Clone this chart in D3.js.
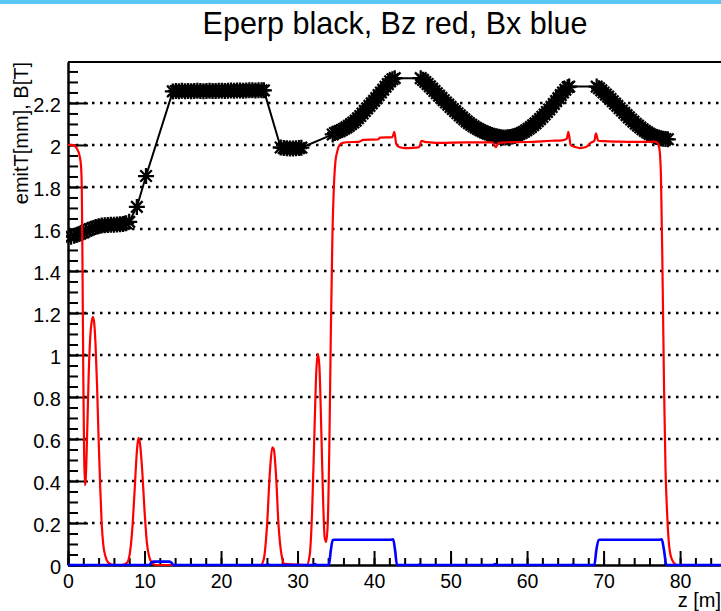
<!DOCTYPE html>
<html>
<head>
<meta charset="utf-8">
<script src="https://cdn.jsdelivr.net/npm/d3@7"></script>
<style>
  body { margin: 0; background: #fff; }
  text { font-family: "Liberation Sans", Arial, Helvetica, sans-serif; }
</style>
</head>
<body>
<div id="chart"></div>
<script>
// Eperp (black, with star markers)
const zE = [0.4, 0.8, 1.2, 1.6, 2.0, 2.4, 2.8, 3.2, 3.6, 4.0, 4.4, 4.8, 5.2, 5.6, 6.0, 6.4, 6.8, 7.2, 7.6, 8.0,
  9.0, 10.2, 13.7,
  14.1, 14.5, 14.9, 15.3, 15.7, 16.1, 16.5, 16.9, 17.3, 17.7, 18.1, 18.5, 18.9, 19.3, 19.7, 20.1, 20.5, 20.9, 21.3, 21.7,
  22.1, 22.5, 22.9, 23.3, 23.7, 24.1, 24.5, 24.9, 25.3, 25.6,
  27.8, 28.2, 28.6, 29.0, 29.4, 29.8, 30.2, 30.5,
  34.6, 34.9, 35.2, 35.5, 35.8, 36.1, 36.4, 36.7, 37.0, 37.3, 37.6, 37.9, 38.2, 38.5, 38.8, 39.1, 39.4, 39.7, 40.0,
  40.3, 40.6, 40.9, 41.2, 41.5, 41.8, 42.1, 42.4, 42.7,
  46.1, 46.4, 46.7, 47.0, 47.3, 47.6, 47.9, 48.2, 48.5, 48.8, 49.1, 49.4, 49.7, 50.0, 50.3, 50.6, 50.9, 51.2, 51.5,
  51.8, 52.1, 52.4, 52.7, 53.0, 53.3, 53.6, 53.9, 54.2, 54.5, 54.8, 55.1, 55.4, 55.7, 56.0, 56.3, 56.6, 56.9, 57.2,
  57.5, 57.8, 58.1, 58.4, 58.7, 59.0, 59.3, 59.6, 59.9, 60.2, 60.5, 60.8, 61.1, 61.4, 61.7, 62.0, 62.3, 62.6, 62.9,
  63.2, 63.5, 63.8, 64.1, 64.4, 64.7, 65.0, 65.3, 65.5,
  69.1, 69.4, 69.7, 70.0, 70.3, 70.6, 70.9, 71.2, 71.5, 71.8, 72.1, 72.4, 72.7, 73.0, 73.3, 73.6, 73.9, 74.2, 74.5,
  74.8, 75.1, 75.4, 75.7, 76.0, 76.3, 76.6, 76.9, 77.2, 77.5, 77.8, 78.1, 78.4];
const eperp = [1.563, 1.568, 1.572, 1.578, 1.584, 1.592, 1.598, 1.604, 1.609, 1.613, 1.616, 1.618, 1.619, 1.620, 1.620, 1.621, 1.622, 1.624, 1.627, 1.634,
  1.705, 1.852, 2.255,
  2.257, 2.256, 2.258, 2.256, 2.257, 2.256, 2.257, 2.258, 2.257, 2.256, 2.257, 2.258, 2.257, 2.257, 2.258, 2.258, 2.257, 2.258, 2.259, 2.258,
  2.259, 2.259, 2.258, 2.259, 2.260, 2.260, 2.259, 2.260, 2.260, 2.260,
  1.988, 1.985, 1.984, 1.983, 1.983, 1.984, 1.985, 1.987,
  2.050, 2.057, 2.062, 2.066, 2.071, 2.077, 2.084, 2.091, 2.099, 2.107, 2.116, 2.127, 2.138, 2.150, 2.162, 2.174, 2.186, 2.198, 2.210,
  2.223, 2.237, 2.250, 2.263, 2.277, 2.290, 2.303, 2.313, 2.318,
  2.318, 2.310, 2.300, 2.290, 2.279, 2.268, 2.257, 2.246, 2.235, 2.224, 2.213, 2.202, 2.192, 2.181, 2.171, 2.161, 2.151, 2.141, 2.131,
  2.122, 2.112, 2.104, 2.096, 2.089, 2.082, 2.076, 2.070, 2.065, 2.060, 2.055, 2.051, 2.047, 2.044, 2.041, 2.039, 2.037, 2.036, 2.036,
  2.037, 2.038, 2.040, 2.043, 2.047, 2.052, 2.057, 2.063, 2.070, 2.077, 2.085, 2.094, 2.103, 2.113, 2.123, 2.134, 2.145, 2.157, 2.169,
  2.181, 2.195, 2.209, 2.223, 2.237, 2.250, 2.263, 2.275, 2.278,
  2.278, 2.270, 2.260, 2.250, 2.240, 2.230, 2.219, 2.208, 2.197, 2.186, 2.175, 2.164, 2.153, 2.142, 2.131, 2.121, 2.111, 2.101, 2.092,
  2.083, 2.075, 2.067, 2.060, 2.053, 2.047, 2.042, 2.038, 2.035, 2.032, 2.030, 2.028, 2.027];

// Bz (red)
const zBz = [0, 0.5, 0.9, 1.2, 1.5, 1.7, 1.8, 1.9, 2.0, 2.1, 2.2, 2.3, 2.5, 2.7, 2.9, 3.1, 3.25, 3.4, 3.6, 3.8, 4.0, 4.2, 4.4, 4.6, 4.9, 5.3, 6.0,
  7.0, 7.7, 8.1, 8.4, 8.7, 9.0, 9.2, 9.4, 9.7, 10.0, 10.3, 10.6, 11.0, 11.5, 13.5,
  25.2, 25.6, 26.0, 26.4, 26.7, 26.9, 27.2, 27.5, 27.9, 28.3,
  31.2, 31.6, 31.9, 32.2, 32.45, 32.65, 32.85, 33.1, 33.35, 33.55, 33.75, 33.95, 34.15, 34.35, 34.55, 34.75, 34.95, 35.2, 35.5, 35.9,
  36.5, 38.0, 38.6, 40.5, 40.8, 42.4, 42.65, 42.9, 43.3, 44.0, 45.0, 45.9, 46.2, 46.6, 47.2, 48.6, 52.0, 55.5, 55.9, 56.3, 57.5, 60.0,
  63.2, 64.6, 65.2, 65.4, 65.7, 66.3, 66.9, 67.7, 68.3, 68.8, 69.0, 69.3, 70.0, 72.0, 74.0, 76.1, 76.7, 77.0, 77.3, 77.5, 77.7, 77.9,
  78.1, 78.3, 78.5, 78.8, 79.2, 79.6, 86];
const bz = [2.0, 2.0, 1.995, 1.98, 1.95, 1.90, 1.80, 1.40, 0.90, 0.55, 0.38, 0.40, 0.62, 0.90, 1.08, 1.16, 1.18, 1.16, 1.05, 0.85, 0.60, 0.38, 0.20, 0.10, 0.04, 0.01, 0,
  0, 0.01, 0.06, 0.17, 0.35, 0.54, 0.605, 0.58, 0.45, 0.26, 0.11, 0.04, 0.01, 0, 0,
  0, 0.03, 0.18, 0.45, 0.56, 0.55, 0.42, 0.20, 0.05, 0.005,
  0, 0.05, 0.25, 0.62, 0.92, 1.005, 0.95, 0.65, 0.30, 0.13, 0.11, 0.20, 0.55, 1.10, 1.55, 1.80, 1.92, 1.97, 2.0, 2.01,
  2.013, 2.015, 2.024, 2.026, 2.035, 2.037, 2.063, 2.005, 1.99, 1.985, 1.986, 1.99, 2.02, 2.015, 2.013, 2.01, 2.012, 2.012, 1.99, 2.01, 2.013, 2.014,
  2.02, 2.022, 2.03, 2.063, 2.0, 1.99, 1.985, 1.99, 2.01, 2.02, 2.055, 2.02, 2.018, 2.016, 2.015, 2.015, 2.016, 2.012, 1.98, 1.85, 1.40, 0.85,
  0.45, 0.25, 0.12, 0.04, 0.01, 0, 0];

// Bx (blue)
const zBx = [0, 10.6, 10.9, 11.2, 13.2, 13.5, 13.8, 25.9, 26.1, 26.3, 32.1, 32.3, 32.5, 34.1, 34.35, 34.6, 34.9, 42.2, 42.5, 42.75, 43.0,
  45.8, 46.0, 46.2, 55.6, 55.8, 56.0, 65.8, 66.0, 66.4, 68.8, 69.05, 69.35, 69.6, 77.3, 77.6, 77.9, 78.2, 86];
const bx = [0, 0, 0.012, 0.016, 0.016, 0.012, 0, 0, 0.004, 0, 0, 0.004, 0, 0, 0.07, 0.119, 0.12, 0.12, 0.122, 0.07, 0,
  0, 0.003, 0, 0, 0.004, 0, 0, 0.003, 0, 0, 0.07, 0.119, 0.12, 0.12, 0.122, 0.07, 0, 0];

const yMajor = [0, 0.2, 0.4, 0.6, 0.8, 1, 1.2, 1.4, 1.6, 1.8, 2, 2.2];
const xMajor = [0, 10, 20, 30, 40, 50, 60, 70, 80];

Chart();

function Chart() {
  const W = 721, H = 611;
  const margin = { top: 62, left: 68, bottom: 46, right: -5 };
  const width = W - margin.left - margin.right;
  const height = H - margin.top - margin.bottom;

  const root = d3.select("#chart").append("svg")
    .attr("width", W)
    .attr("height", H);

  // light blue strip on top of the screenshot
  root.append("rect").attr("x", 0).attr("y", 0).attr("width", W).attr("height", 4).attr("fill", "#5ac8f5");

  // title
  root.append("text")
    .attr("x", 395)
    .attr("y", 34)
    .attr("text-anchor", "middle")
    .style("font-size", "30.5px")
    .text("Eperp black, Bz red, Bx blue");

  const svg = root.append("g").attr("transform", "translate(" + margin.left + "," + margin.top + ")");

  const x = d3.scaleLinear().domain([0, 86]).range([0, width]);
  const y = d3.scaleLinear().domain([0, 2.395]).range([height, 0]);

  // dotted grid lines
  svg.selectAll(".grid")
    .data(yMajor.filter((d) => d > 0))
    .enter()
    .append("line")
    .attr("x1", 0)
    .attr("x2", width)
    .attr("y1", (d) => y(d))
    .attr("y2", (d) => y(d))
    .attr("stroke", "#000")
    .attr("stroke-width", 2.5)
    .attr("stroke-dasharray", "2.5,5.5");

  // frame top
  svg.append("line").attr("x1", 0).attr("x2", width).attr("y1", 0).attr("y2", 0)
    .attr("stroke", "#000").attr("stroke-width", 2);

  // y axis: minor + major, ticks inward
  const yMinorAxis = svg.append("g")
    .call(d3.axisLeft(y).tickValues(d3.range(0, 2.39, 0.05)).tickSize(-10).tickSizeOuter(0).tickFormat(""));
  const yAxis = svg.append("g")
    .call(d3.axisLeft(y).tickValues(yMajor).tickSize(-20).tickSizeOuter(0).tickPadding(7).tickFormat(d3.format("")));

  // x axis
  const xMinorAxis = svg.append("g")
    .attr("transform", "translate(0," + height + ")")
    .call(d3.axisBottom(x).tickValues(d3.range(0, 86.1, 2)).tickSize(-7).tickSizeOuter(0).tickFormat(""));
  const xAxis = svg.append("g")
    .attr("transform", "translate(0," + height + ")")
    .call(d3.axisBottom(x).tickValues(xMajor).tickSize(-14).tickSizeOuter(0).tickPadding(4).tickFormat(d3.format("")));

  [yMinorAxis, yAxis, xMinorAxis, xAxis].forEach((g) => {
    g.selectAll("path, line").attr("stroke", "#000").attr("stroke-width", 2);
    g.selectAll("text").attr("fill", "#000");
  });
  yAxis.selectAll("text").style("font-size", "20px").attr("dy", "0.42em");
  xAxis.selectAll("text").style("font-size", "19.5px").attr("dy", "0.95em");

  // axis titles
  root.append("text")
    .attr("transform", "translate(28,62) rotate(-90)")
    .attr("text-anchor", "end")
    .style("font-size", "20px")
    .text("emitT[mm], B[T]");

  root.append("text")
    .attr("x", 721)
    .attr("y", 607)
    .attr("text-anchor", "end")
    .style("font-size", "20px")
    .text("z [m]");

  const clip = root.append("clipPath").attr("id", "plotclip")
    .append("rect").attr("x", -2).attr("y", -2).attr("width", width + 4).attr("height", height + 4);
  const plot = svg.append("g").attr("clip-path", "url(#plotclip)");

  // black Eperp line + star markers
  const eData = zE.map((z, i) => ({ z: z, v: eperp[i] }));
  const line = d3.line().x((d) => x(d.z)).y((d) => y(d.v));

  plot.append("path")
    .datum(eData)
    .attr("d", line)
    .attr("fill", "none")
    .attr("stroke", "#000")
    .attr("stroke-width", 2);

  const r = 8, c = r * 0.72;
  const star = "M" + -r + ",0H" + r + "M0," + -r + "V" + r +
    "M" + -c + "," + -c + "L" + c + "," + c + "M" + -c + "," + c + "L" + c + "," + -c;
  plot.selectAll(".star")
    .data(eData)
    .enter()
    .append("path")
    .attr("transform", (d) => "translate(" + x(d.z) + "," + y(d.v) + ")")
    .attr("d", star)
    .attr("fill", "none")
    .attr("stroke", "#000")
    .attr("stroke-width", 2.3);

  // red Bz
  const bzData = zBz.map((z, i) => ({ z: z, v: bz[i] }));
  plot.append("path")
    .datum(bzData)
    .attr("d", d3.line().curve(d3.curveMonotoneX).x((d) => x(d.z)).y((d) => y(d.v)))
    .attr("fill", "none")
    .attr("stroke", "#ff0000")
    .attr("stroke-width", 2.2);

  // blue Bx
  const bxData = zBx.map((z, i) => ({ z: z, v: bx[i] }));
  plot.append("path")
    .datum(bxData)
    .attr("d", d3.line().curve(d3.curveMonotoneX).x((d) => x(d.z)).y((d) => y(d.v)))
    .attr("fill", "none")
    .attr("stroke", "#0000ff")
    .attr("stroke-width", 2.6);
}
</script>
</body>
</html>
